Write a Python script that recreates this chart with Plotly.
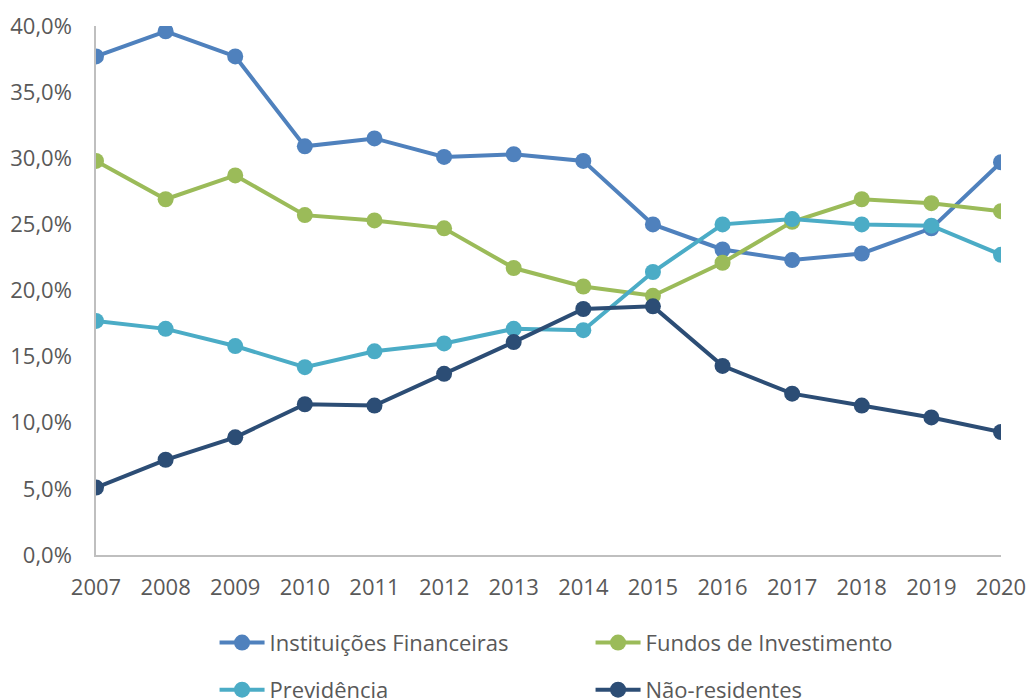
import plotly.graph_objects as go

years = list(range(2007, 2021))
instituicoes = [37.7, 39.6, 37.7, 30.9, 31.5, 30.1, 30.3, 29.8, 25.0, 23.1, 22.3, 22.8, 24.7, 29.7]
fundos = [29.8, 26.9, 28.7, 25.7, 25.3, 24.7, 21.7, 20.3, 19.6, 22.1, 25.2, 26.9, 26.6, 26.0]
previdencia = [17.7, 17.1, 15.8, 14.2, 15.4, 16.0, 17.1, 17.0, 21.4, 25.0, 25.4, 25.0, 24.9, 22.7]
nao_residentes = [5.1, 7.2, 8.9, 11.4, 11.3, 13.7, 16.1, 18.6, 18.8, 14.3, 12.2, 11.3, 10.4, 9.3]

series = [
    ("Instituições Financeiras", instituicoes, "#4F81BD", "legend"),
    ("Fundos de Investimento", fundos, "#9BBB59", "legend"),
    ("Previdência", previdencia, "#4BACC6", "legend2"),
    ("Não-residentes", nao_residentes, "#2C4D75", "legend2"),
]

fig = go.Figure()
for name, vals, color, lg in series:
    fig.add_trace(go.Scatter(
        x=years, y=vals, name=name, mode="lines+markers",
        line=dict(color=color, width=4),
        marker=dict(color=color, size=16),
        legend=lg,
    ))

font = "Open Sans, Liberation Sans, sans-serif"
leg_common = dict(
    orientation="h", xanchor="left", yanchor="middle",
    entrywidth=316, entrywidthmode="pixels",
    font=dict(family=font, size=22, color="#595959"),
    itemwidth=45, bgcolor="rgba(0,0,0,0)",
)
fig.update_layout(
    width=1028, height=700,
    margin=dict(l=96, r=27, t=26, b=145, autoexpand=False),
    plot_bgcolor="white", paper_bgcolor="white",
    separators=",.",
    font=dict(family=font, size=22, color="#595959"),
    showlegend=True,
    legend=dict(x=0.131, y=-0.166, **leg_common),
    legend2=dict(x=0.131, y=-0.255, **leg_common),
)
fig.update_xaxes(
    range=[2007, 2020], tickmode="array", tickvals=years,
    ticktext=[str(y) for y in years],
    showgrid=False, zeroline=False, showline=True, linecolor="#BFBFBF", linewidth=1.5,
    ticks="", ticklabelstandoff=12, automargin=False, ticklabeloverflow="allow",
    tickfont=dict(size=22),
)
fig.update_yaxes(
    range=[0, 40], dtick=5, tickformat=".1f", ticksuffix="%",
    showgrid=False, zeroline=False, showline=True, linecolor="#BFBFBF", linewidth=1.5,
    ticks="", ticklabelstandoff=18, automargin=False, ticklabeloverflow="allow",
    tickfont=dict(size=22),
)
fig.write_html(
    "out.html",
    config={"displayModeBar": False},
    post_script="document.body.style.margin='0';document.body.style.overflow='hidden';",
)
